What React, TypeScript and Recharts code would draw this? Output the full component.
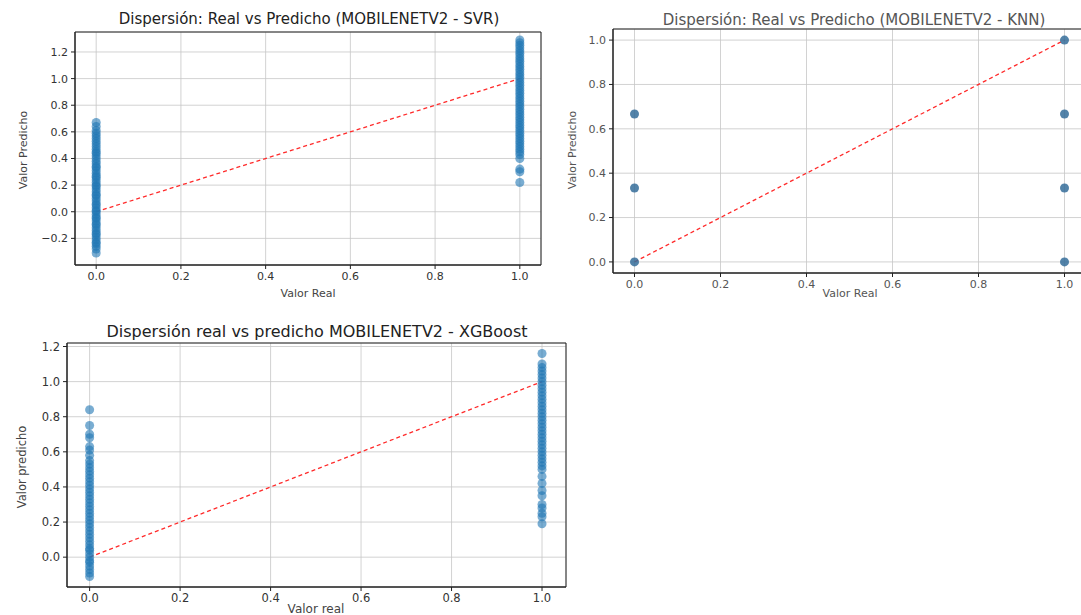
import React from 'react';
import { ScatterChart, Scatter, XAxis, YAxis, CartesianGrid, ReferenceLine, ReferenceArea } from 'recharts';

// tick labels
const xTicks = [0, 0.2, 0.4, 0.6, 0.8, 1.0];
const svrYTicks = [-0.2, 0, 0.2, 0.4, 0.6, 0.8, 1.0, 1.2];
const knnYTicks = [0, 0.2, 0.4, 0.6, 0.8, 1.0];
const xgbYTicks = [0, 0.2, 0.4, 0.6, 0.8, 1.0, 1.2];

// predicted values, grouped by the real value (0 or 1)
const svrReal0 = [-0.31, -0.28, -0.26, -0.24, -0.23, -0.21, -0.19, -0.17, -0.16, -0.14, -0.12, -0.10, -0.09, -0.07, -0.05, -0.04, -0.02, 0.00, 0.01, 0.03, 0.05, 0.06, 0.08, 0.10, 0.12, 0.13, 0.15, 0.17, 0.19, 0.20, 0.22, 0.24, 0.26, 0.27, 0.29, 0.31, 0.33, 0.34, 0.36, 0.38, 0.40, 0.42, 0.44, 0.45, 0.47, 0.49, 0.51, 0.53, 0.55, 0.57, 0.59, 0.61, 0.64, 0.67];
const svrReal1 = [0.22, 0.30, 0.32, 0.40, 0.43, 0.45, 0.47, 0.49, 0.51, 0.53, 0.55, 0.57, 0.59, 0.61, 0.63, 0.65, 0.67, 0.69, 0.71, 0.73, 0.75, 0.77, 0.79, 0.81, 0.83, 0.85, 0.87, 0.89, 0.91, 0.93, 0.95, 0.97, 0.99, 1.01, 1.03, 1.05, 1.07, 1.09, 1.11, 1.13, 1.15, 1.17, 1.19, 1.21, 1.23, 1.25, 1.27, 1.29];

const knnReal0 = [0.0, 0.333, 0.667];
const knnReal1 = [0.0, 0.333, 0.667, 1.0];

const xgbReal0 = [-0.11, -0.09, -0.07, -0.05, -0.03, -0.02, 0.00, 0.02, 0.04, 0.05, 0.07, 0.09, 0.11, 0.13, 0.15, 0.17, 0.19, 0.21, 0.23, 0.25, 0.27, 0.29, 0.31, 0.33, 0.35, 0.37, 0.39, 0.41, 0.43, 0.45, 0.47, 0.49, 0.51, 0.53, 0.55, 0.58, 0.61, 0.63, 0.68, 0.70, 0.75, 0.84];
const xgbReal1 = [0.19, 0.23, 0.25, 0.28, 0.30, 0.35, 0.38, 0.42, 0.46, 0.50, 0.52, 0.54, 0.56, 0.58, 0.60, 0.62, 0.64, 0.66, 0.68, 0.70, 0.72, 0.74, 0.76, 0.78, 0.80, 0.82, 0.84, 0.86, 0.88, 0.90, 0.92, 0.94, 0.96, 0.98, 1.00, 1.02, 1.04, 1.06, 1.08, 1.10, 1.16];

const toPoints = (real0: number[], real1: number[]) => [
  ...real0.map((y) => ({ x: 0, y })),
  ...real1.map((y) => ({ x: 1, y })),
];

const FONT = '"DejaVu Sans", sans-serif';
const fmt = (v: number) => (v < 0 ? '\u2212' : '') + Math.abs(v).toFixed(1);

type PanelProps = {
  left: number;
  top: number;
  width: number;
  height: number;
  margin: { top: number; right: number; bottom: number; left: number };
  xDomain: [number, number];
  yDomain: [number, number];
  yTicks: number[];
  points: { x: number; y: number }[];
  fontSize: number;
  xAxisHeight: number;
  dotOpacity: number;
  dotColor: string;
  textColor: string;
};

const Panel: React.FC<PanelProps> = (p) => (
  <div style={{ position: 'absolute', left: p.left, top: p.top }}>
    <ScatterChart width={p.width} height={p.height} margin={p.margin}>
      <CartesianGrid stroke="#c6c6c6" strokeWidth={0.8} />
      <XAxis
        type="number"
        dataKey="x"
        domain={p.xDomain}
        ticks={xTicks}
        tickFormatter={fmt}
        allowDataOverflow
        height={p.xAxisHeight}
        tickSize={4}
        tickMargin={3}
        stroke="#222"
        tick={{ fill: p.textColor, fontSize: p.fontSize, fontFamily: FONT }}
      />
      <YAxis
        type="number"
        dataKey="y"
        domain={p.yDomain}
        ticks={p.yTicks}
        tickFormatter={fmt}
        allowDataOverflow
        width={40}
        tickSize={4}
        tickMargin={3}
        stroke="#222"
        tick={{ fill: p.textColor, fontSize: p.fontSize, fontFamily: FONT }}
      />
      <ReferenceArea
        x1={p.xDomain[0]}
        x2={p.xDomain[1]}
        y1={p.yDomain[0]}
        y2={p.yDomain[1]}
        fill="none"
        stroke="#222"
        strokeWidth={1}
      />
      <Scatter data={p.points} fill={p.dotColor} fillOpacity={p.dotOpacity} isAnimationActive={false} />
      <ReferenceLine
        segment={[{ x: 0, y: 0 }, { x: 1, y: 1 }]}
        stroke="#ff2a2a"
        strokeWidth={1.3}
        strokeDasharray="4 3"
      />
    </ScatterChart>
  </div>
);

const Text: React.FC<{ x: number; y: number; size: number; rotate?: boolean; color?: string; children: React.ReactNode }> = ({ x, y, size, rotate, color, children }) => (
  <div
    style={{
      position: 'absolute',
      left: x,
      top: y,
      transform: `translate(-50%, -50%)${rotate ? ' rotate(-90deg)' : ''}`,
      fontFamily: FONT,
      fontSize: size,
      color: color || '#222',
      whiteSpace: 'nowrap',
      lineHeight: 1,
    }}
  >
    {children}
  </div>
);

export default function App() {
  return (
    <div style={{ position: 'absolute', left: 0, top: 0, width: 1081, height: 615, overflow: 'hidden', background: '#fff' }}>
      <Panel
        left={0}
        top={0}
        width={560}
        height={300}
        margin={{ top: 32, right: 19, bottom: 0, left: 35 }}
        xAxisHeight={35}
        xDomain={[-0.05, 1.05]}
        yDomain={[-0.4, 1.35]}
        yTicks={svrYTicks}
        points={toPoints(svrReal0, svrReal1)}
        fontSize={11}
        dotOpacity={0.6}
        dotColor="#1f77b4"
        textColor="#333"
      />
      <Text x={309} y={19} size={15}>Dispersión: Real vs Predicho (MOBILENETV2 - SVR)</Text>
      <Text x={308} y={293} size={11} color="#444">Valor Real</Text>
      <Text x={23} y={150} size={11} rotate color="#444">Valor Predicho</Text>

      <Panel
        left={560}
        top={0}
        width={540}
        height={300}
        margin={{ top: 29, right: 14, bottom: 0, left: 13 }}
        xAxisHeight={27}
        xDomain={[-0.05, 1.05]}
        yDomain={[-0.05, 1.05]}
        yTicks={knnYTicks}
        points={toPoints(knnReal0, knnReal1)}
        fontSize={11}
        dotOpacity={0.85}
        dotColor="#356d9a"
        textColor="#555"
      />
      <Text x={854} y={20} size={15} color="#555">Dispersión: Real vs Predicho (MOBILENETV2 - KNN)</Text>
      <Text x={850} y={293} size={11} color="#555">Valor Real</Text>
      <Text x={572} y={150} size={11} rotate color="#555">Valor Predicho</Text>

      <Panel
        left={0}
        top={315}
        width={600}
        height={300}
        margin={{ top: 28, right: 34, bottom: 0, left: 27 }}
        xAxisHeight={28}
        xDomain={[-0.05, 1.053]}
        yDomain={[-0.17, 1.22]}
        yTicks={xgbYTicks}
        points={toPoints(xgbReal0, xgbReal1)}
        fontSize={11.5}
        dotOpacity={0.6}
        dotColor="#1f77b4"
        textColor="#333"
      />
      <Text x={317} y={332} size={16}>Dispersión real vs predicho MOBILENETV2 - XGBoost</Text>
      <Text x={316} y={609} size={12} color="#444">Valor real</Text>
      <Text x={23} y={467} size={11.5} rotate color="#444">Valor predicho</Text>
    </div>
  );
}
